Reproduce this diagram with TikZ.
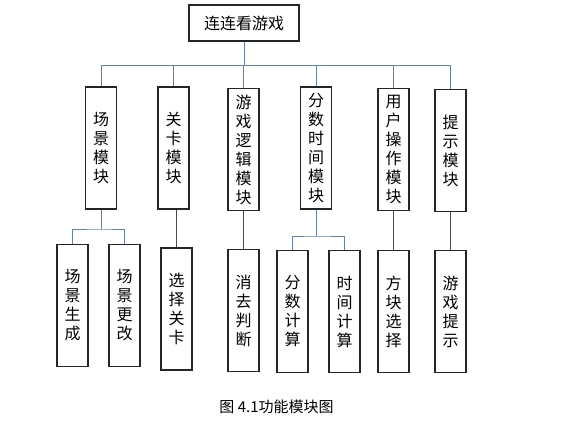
\documentclass[tikz,border=0pt]{standalone}
\usepackage{fontspec}
\setmainfont{Noto Sans CJK SC}
\definecolor{linkblue}{HTML}{6A819A}
\definecolor{linkdark}{HTML}{4A4A4A}
\begin{document}
\begin{tikzpicture}[
    x=1pt, y=-1pt,
    block/.style={rectangle, draw=black!85, line width=1.2pt, minimum width=31pt, minimum height=122pt, inner sep=0pt, align=center, font=\fontsize{16}{19}\selectfont},
    topblock/.style={block, minimum width=110pt, minimum height=36pt},
    link/.style={draw=linkblue, line width=1pt},
    single/.style={draw=linkdark, line width=1pt}
]
\useasboundingbox (0,0) rectangle (573,423);

% Root
\node[topblock] (game) at (244,23) {连连看游戏};

% Modules
\node[block] (scene) at (101,148) {场\\景\\模\\块};
\node[block] (level) at (173.5,148) {关\\卡\\模\\块};
\node[block] (logic) at (243.5,149.5) {游\\戏\\逻\\辑\\模\\块};
\node[block] (score) at (316,148) {分\\数\\时\\间\\模\\块};
\node[block] (user) at (393.5,149.5) {用\\户\\操\\作\\模\\块};
\node[block] (hint) at (450.5,150.5) {提\\示\\模\\块};

% Sub modules
\node[block] (build) at (72.5,305.5) {场\\景\\生\\成};
\node[block] (change) at (124.5,305.5) {场\\景\\更\\改};
\node[block] (pick) at (176.5,309) {选\\择\\关\\卡};
\node[block] (clear) at (243.5,310.5) {消\\去\\判\\断};
\node[block] (points) at (292.5,311.5) {分\\数\\计\\算};
\node[block] (timer) at (344.5,311.5) {时\\间\\计\\算};
\node[block] (tiles) at (393.5,311.5) {方\\块\\选\\择};
\node[block] (tip) at (450.5,311.5) {游\\戏\\提\\示};

% Caption
\node[font=\fontsize{15}{17}\selectfont] (caption) at (276.5,407) {图 4.1功能模块图};

% Bus
\coordinate (bus) at (0,65);
\draw[link] (game.south) -- (game.south |- bus);
\draw[link] (scene.north |- bus) -- (hint.north |- bus);
\foreach \m in {scene, level, logic, score, user, hint}
    \draw[link] (\m.north) -- (\m.north |- bus);

% Branches
\coordinate (j1) at (0,229);
\coordinate (j2) at (0,236);
\draw[link] (scene.south) -- (scene.south |- j1);
\draw[link] (build.north) |- (scene.south |- j1) -| (change.north);
\draw[link] (score.south) -- (score.south |- j2);
\draw[link] (points.north) |- (score.south |- j2) -| (timer.north);
\draw[single] (pick.north |- level.south) -- (pick.north);
\draw[single] (logic.south) -- (clear.north);
\draw[single] (user.south) -- (tiles.north);
\draw[single] (hint.south) -- (tip.north);

\end{tikzpicture}
\end{document}
